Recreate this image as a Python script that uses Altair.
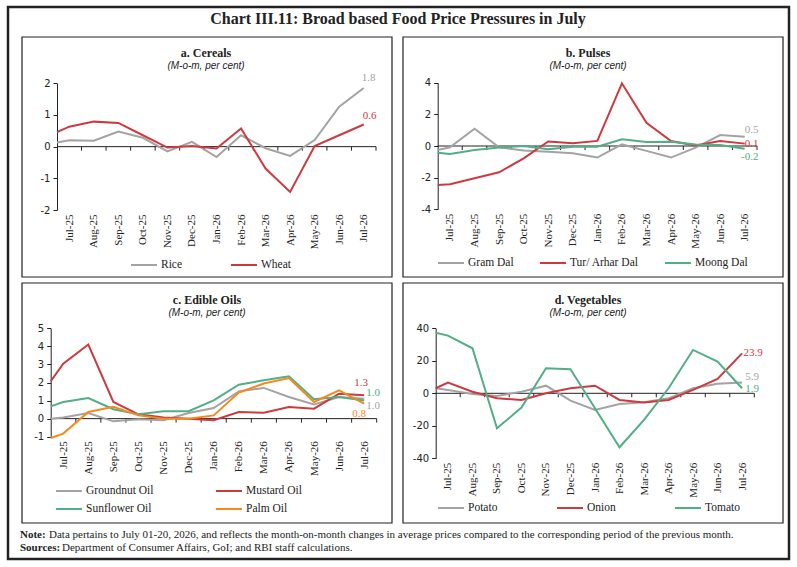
import altair as alt
import pandas as pd

# ---------------- data ----------------
months = ["Jul-25", "Aug-25", "Sep-25", "Oct-25", "Nov-25", "Dec-25", "Jan-26",
          "Feb-26", "Mar-26", "Apr-26", "May-26", "Jun-26", "Jul-26"]
# first observation sits on the y-axis (start of the period), then one per month centre
xpos = [-0.5, 0, 1, 2, 3, 4, 5, 6, 7, 8, 9, 10, 11, 12]
bounds = [0.5, 1.5, 2.5, 3.5, 4.5, 5.5, 6.5, 7.5, 8.5, 9.5, 10.5, 11.5, 12.5]

rice = [0.13, 0.20, 0.19, 0.48, 0.28, -0.15, 0.15, -0.33, 0.36, -0.05, -0.29, 0.21, 1.26, 1.85]
wheat = [0.46, 0.63, 0.79, 0.75, 0.36, -0.03, 0.02, -0.06, 0.57, -0.69, -1.43, 0.02, 0.36, 0.70]

gram_dal = [-0.25, -0.08, 1.09, -0.08, -0.29, -0.36, -0.46, -0.73, 0.10, -0.31, -0.73, -0.10, 0.69, 0.58]
tur_dal = [-2.46, -2.42, -2.04, -1.66, -0.78, 0.29, 0.17, 0.32, 3.96, 1.46, 0.31, 0.04, 0.31, 0.15]
moong_dal = [-0.42, -0.50, -0.25, -0.10, 0.00, -0.20, -0.04, -0.05, 0.42, 0.25, 0.27, 0.10, 0.06, -0.17]

groundnut = [0.00, 0.06, 0.31, -0.15, -0.04, -0.09, 0.31, 0.59, 1.51, 1.70, 1.20, 0.79, 1.20, 1.10]
mustard = [2.07, 3.04, 4.10, 0.92, 0.24, 0.06, 0.00, -0.09, 0.37, 0.33, 0.64, 0.55, 1.38, 1.29]
sunflower = [0.68, 0.92, 1.14, 0.52, 0.24, 0.41, 0.41, 1.01, 1.88, 2.12, 2.34, 1.07, 1.20, 1.01]
palm = [-1.07, -0.83, 0.37, 0.65, 0.18, 0.00, 0.00, 0.18, 1.44, 1.94, 2.25, 0.92, 1.57, 0.83]

potato = [3.1, 2.0, -0.4, -1.6, 1.0, 4.7, -4.5, -10.3, -6.6, -5.5, -3.1, 3.1, 5.9, 6.6]
onion = [3.1, 6.6, 1.0, -3.1, -4.1, 0.0, 3.1, 4.7, -4.1, -5.7, -4.1, 2.1, 8.8, 24.6]
tomato = [37.3, 35.5, 27.7, -21.5, -8.8, 15.4, 14.8, -9.2, -33.2, -16.4, 3.1, 26.7, 19.5, 3.1]

end_labels_a = ["1.8", "0.6"]
end_labels_b = ["0.5", "0.1", "-0.2"]
end_labels_c = ["1.0", "1.3", "1.0", "0.8"]
end_labels_d = ["5.9", "23.9", "1.9"]

# ---------------- style ----------------
W, H = 797, 567
SERIF = "Liberation Serif"
SANS = "DejaVu Sans"
INK = "#222222"
GRAY, RED, GREEN, ORANGE = "#A3A3A3", "#CC3A3F", "#52AE87", "#F5891E"

label_expr = "[" + ",".join("'%s'" % m for m in months) + "][datum.value]"
one = alt.Data(values=[{"k": 1}])


def panel(names, series, colors, ydomain, yticks, box, labels, label_offsets, leg):
    x0, x1, yt, yb = box
    rows = []
    for n, vals in zip(names, series):
        for xp, v in zip(xpos, vals):
            rows.append({"series": n, "x": xp, "v": v})
    df = pd.DataFrame(rows)

    X = alt.X("x:Q",
              scale=alt.Scale(domain=[-0.5, 12.5], range=[x0, x1], nice=False, zero=False),
              axis=alt.Axis(values=list(range(13)), labelExpr=label_expr, orient="bottom",
                            offset=yb - H, domain=False, ticks=False, grid=False,
                            labelAngle=-90, labelPadding=4, labelFont=SERIF, labelFontSize=11,
                            labelColor=INK, labelOverlap=False, labelFlush=False, title=None))
    Y = alt.Y("v:Q",
              scale=alt.Scale(domain=ydomain, range=[yb, yt], nice=False, zero=False),
              axis=alt.Axis(values=yticks, labelExpr="'' + datum.value", orient="left",
                            offset=-x0, grid=False, tickSize=4,
                            tickColor=INK, domainColor=INK, labelFont=SANS, labelFontSize=10,
                            labelColor=INK, labelPadding=3, labelFlush=False, labelOverlap=False,
                            title=None))

    color = alt.Color("series:N", sort=names,
                      scale=alt.Scale(domain=names, range=colors),
                      legend=alt.Legend(orient="none", legendX=leg["x"], legendY=leg["y"],
                                        direction="horizontal", columns=leg["cols"], title=None,
                                        symbolType="M-1,0H3", symbolSize=169, symbolStrokeWidth=2,
                                        labelOffset=16, labelFont=SERIF, labelFontSize=11.5,
                                        labelColor=INK, columnPadding=leg["pad"], rowPadding=5,
                                        padding=0, labelLimit=200))

    zero = alt.Chart(pd.DataFrame({"x": [-0.5], "x2": [12.5], "v": [0]})).mark_rule(
        color=INK, strokeWidth=1).encode(x=X, x2="x2:Q", y=Y)
    ticks = alt.Chart(pd.DataFrame({"x": bounds, "v": [0] * len(bounds)})).mark_rule(
        color=INK, strokeWidth=1, y2Offset=4).encode(x=X, y=Y, y2="v")
    lines = alt.Chart(df).mark_line(strokeWidth=2).encode(x=X, y=Y, color=color)

    layers = [zero, ticks, lines]
    for n, vals, c, lab, (dx, dy) in zip(names, series, colors, labels, label_offsets):
        ldf = pd.DataFrame({"x": [xpos[-1]], "v": [vals[-1]], "label": [lab]})
        layers.append(alt.Chart(ldf).mark_text(
            dx=dx, dy=dy, font=SERIF, fontSize=11, align="center", baseline="middle",
            color=c).encode(x=X, y=Y, text="label:N"))
    return alt.layer(*layers)


pa = panel(["Rice", "Wheat"], [rice, wheat], [GRAY, RED], [-2, 2], [-2, -1, 0, 1, 2],
           (57, 376, 83.3, 210), end_labels_a, [(5, -10), (6, -8)],
           {"x": 130, "y": 257.5, "cols": 2, "pad": 44})
pb = panel(["Gram Dal", "Tur/ Arhar Dal", "Moong Dal"], [gram_dal, tur_dal, moong_dal],
           [GRAY, RED, GREEN], [-4, 4], [-4, -2, 0, 2, 4],
           (437.7, 757, 82.7, 209.3), end_labels_b, [(7, -7), (7, 0), (5, 8)],
           {"x": 437, "y": 255.5, "cols": 3, "pad": 22})
pc = panel(["Groundnut Oil", "Mustard Oil", "Sunflower Oil", "Palm Oil"],
           [groundnut, mustard, sunflower, palm], [GRAY, RED, GREEN, ORANGE],
           [-1, 5], [-1, 0, 1, 2, 3, 4, 5],
           (50.7, 376.7, 328.3, 436.7), end_labels_c, [(9, 7), (-3, -12), (9, -7), (-5, 10)],
           {"x": 55, "y": 483.5, "cols": 2, "pad": 58})
pd_ = panel(["Potato", "Onion", "Tomato"], [potato, onion, tomato], [GRAY, RED, GREEN],
            [-40, 40], [-40, -20, 0, 20, 40],
            (435.7, 754.3, 328.3, 458.3), end_labels_d, [(10, -6), (11, 0), (10, 1)],
            {"x": 437, "y": 500.5, "cols": 3, "pad": 55})


def frame(x0, x1, y0, y1, sw):
    return alt.Chart(one).mark_rect(filled=False, stroke=INK, strokeWidth=sw).encode(
        x=alt.value(x0), x2=alt.value(x1), y=alt.value(y0), y2=alt.value(y1))


def label(text, x, y, size, weight="normal", style="normal", font=SERIF, align="center"):
    return alt.Chart(one).mark_text(text=text, font=font, fontSize=size, fontWeight=weight,
                                    fontStyle=style, align=align, baseline="middle",
                                    color=INK).encode(x=alt.value(x), y=alt.value(y))


decor = [
    frame(8, 789, 7, 559, 2.5),
    frame(22, 392, 37, 277, 1.2),
    frame(403, 783, 37, 277, 1.2),
    frame(22, 392, 283, 523, 1.2),
    frame(403, 783, 283, 523, 1.2),
    label("Chart III.11: Broad based Food Price Pressures in July", 398, 19, 16, weight="bold"),
    label("a. Cereals", 206, 53, 12, weight="bold"),
    label("(M-o-m, per cent)", 206, 66, 10, style="italic", font="Liberation Sans"),
    label("b. Pulses", 588, 53, 12, weight="bold"),
    label("(M-o-m, per cent)", 588, 66, 10, style="italic", font="Liberation Sans"),
    label("c. Edible Oils", 207, 300, 12, weight="bold"),
    label("(M-o-m, per cent)", 207, 313, 10, style="italic", font="Liberation Sans"),
    label("d. Vegetables", 588, 300, 12, weight="bold"),
    label("(M-o-m, per cent)", 588, 313, 10, style="italic", font="Liberation Sans"),
    label("Note:", 20, 535, 11, weight="bold", align="left"),
    label("Data pertains to July 01-20, 2026, and reflects the month-on-month changes in average "
          "prices compared to the corresponding period of the previous month.", 49, 535, 11,
          align="left"),
    label("Sources:", 20, 548, 11, weight="bold", align="left"),
    label("Department of Consumer Affairs, GoI; and RBI staff calculations.", 62, 548, 11,
          align="left"),
]

chart = alt.layer(*decor, pa, pb, pc, pd_).resolve_scale(
    x="independent", y="independent", color="independent"
).properties(
    width=W, height=H, padding=0, autosize=alt.AutoSizeParams(type="none"),
    background="white"
).configure_view(stroke="transparent")

chart.save("out.html", embed_options={"renderer": "svg", "actions": False})
